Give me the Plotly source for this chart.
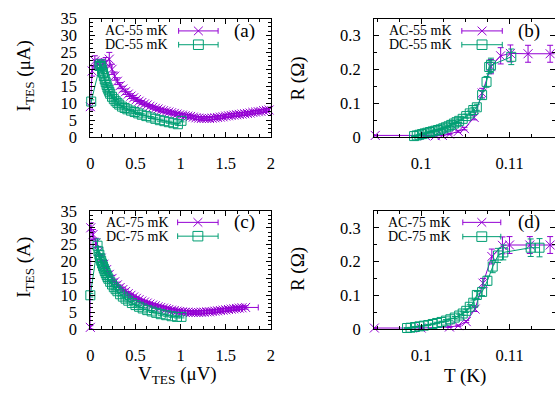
import plotly.graph_objects as go

# ---------------- data ----------------
# (a) I-V at 55 mK
a_ac_v = [0.00, 0.02, 0.05, 0.08, 0.11, 0.14, 0.17, 0.21, 0.24, 0.27,
          0.30, 0.33, 0.36, 0.39, 0.42, 0.45, 0.48, 0.51, 0.54, 0.57,
          0.60, 0.63, 0.66, 0.69, 0.72, 0.75, 0.78, 0.81, 0.84, 0.87,
          0.90, 0.93, 0.96, 0.99, 1.02, 1.05, 1.08, 1.11, 1.14, 1.17,
          1.20, 1.23, 1.26, 1.29, 1.32, 1.35, 1.38, 1.41, 1.44, 1.47,
          1.50, 1.53, 1.56, 1.59, 1.62, 1.65, 1.68, 1.71, 1.74, 1.77,
          1.80, 1.83, 1.86, 1.89, 1.92, 1.95, 1.98]
a_ac_i = [9.0, 19.5, 22.5, 21.5, 21.0, 21.5, 22.0, 23.0, 20.0, 18.0,
          16.5, 15.2, 14.2, 13.4, 12.7, 12.1, 11.6, 11.1, 10.6, 10.2,
          9.8, 9.5, 9.1, 8.8, 8.5, 8.3, 8.0, 7.8, 7.6, 7.4,
          7.2, 7.0, 6.8, 6.6, 6.5, 6.3, 6.2, 6.1, 5.9, 5.7,
          5.6, 5.5, 5.5, 5.5, 5.5, 5.6, 5.7, 5.8, 5.9, 6.0,
          6.2, 6.3, 6.4, 6.5, 6.6, 6.7, 6.8, 6.9, 7.0, 7.1,
          7.3, 7.4, 7.5, 7.6, 7.8, 7.9, 8.0]
a_ac_e = [1.0, 1.5, 1.5, 1.5, 1.5, 1.5, 1.5, 2.0, 1.5, 1.2,
          1.0, 0.9, 0.8, 0.8, 0.7, 0.7, 0.7, 0.6, 0.6, 0.6,
          0.6, 0.5, 0.5, 0.5, 0.5, 0.5, 0.5, 0.5, 0.5, 0.5,
          0.5, 0.5, 0.5, 0.5, 0.5, 0.5, 0.5, 0.5, 0.5, 0.5,
          0.5, 0.5, 0.5, 0.5, 0.5, 0.5, 0.5, 0.5, 0.5, 0.5,
          0.5, 0.5, 0.5, 0.5, 0.5, 0.5, 0.5, 0.5, 0.5, 0.5,
          0.5, 0.5, 0.5, 0.5, 0.5, 0.5, 0.5]
a_dc_v = [0.01, 0.10, 0.11, 0.12, 0.13, 0.14, 0.15, 0.16, 0.17, 0.18,
          0.19, 0.20, 0.21, 0.22, 0.24, 0.26, 0.28, 0.30, 0.32, 0.35,
          0.38, 0.41, 0.45, 0.49, 0.53, 0.57, 0.62, 0.67, 0.72, 0.77,
          0.82, 0.87, 0.92, 0.97, 1.01]
a_dc_i = [10.5, 21.0, 21.5, 21.0, 20.0, 19.0, 18.0, 17.0, 16.2, 15.4,
          14.6, 14.0, 13.4, 12.8, 11.9, 11.2, 10.6, 10.1, 9.6, 9.0,
          8.6, 8.2, 7.8, 7.4, 7.0, 6.6, 6.2, 5.8, 5.4, 5.0,
          4.7, 4.4, 4.1, 3.8, 4.8]
a_dc_e = [0.5, 1.0, 1.0, 1.0, 0.9, 0.9, 0.8, 0.8, 0.7, 0.7,
          0.7, 0.6, 0.6, 0.6, 0.5, 0.5, 0.5, 0.5, 0.4, 0.4,
          0.4, 0.4, 0.4, 0.4, 0.3, 0.3, 0.3, 0.3, 0.3, 0.3,
          0.3, 0.3, 0.3, 0.3, 0.3]

# (b) R-T at 55 mK
b_ac_t = [0.0948, 0.1005, 0.1016, 0.1024, 0.1032, 0.1042, 0.1049, 0.1060,
          0.1069, 0.1079, 0.1090, 0.1101, 0.1121, 0.1146, 0.1168]
b_ac_r = [0.005, 0.004, 0.004, 0.005, 0.009, 0.017, 0.025, 0.058,
          0.130, 0.208, 0.240, 0.247, 0.246, 0.246, 0.246]
b_ac_e = [0.001, 0.001, 0.001, 0.001, 0.002, 0.003, 0.004, 0.007,
          0.014, 0.021, 0.024, 0.025, 0.025, 0.025, 0.025]
b_dc_t = [0.0992, 0.0995, 0.0998, 0.1001, 0.1004, 0.1007, 0.1010, 0.1013,
          0.1016, 0.1019, 0.1022, 0.1025, 0.1028, 0.1031, 0.1034, 0.1037,
          0.1040, 0.1043, 0.1047, 0.1051, 0.1055, 0.1059, 0.1063, 0.1069,
          0.1074, 0.1077, 0.1079, 0.1102]
b_dc_r = [0.003, 0.005, 0.007, 0.009, 0.011, 0.013, 0.015, 0.017,
          0.019, 0.021, 0.023, 0.026, 0.029, 0.032, 0.036, 0.040,
          0.044, 0.048, 0.054, 0.062, 0.070, 0.080, 0.088, 0.124,
          0.163, 0.207, 0.212, 0.237]
b_dc_e = [0.001, 0.001, 0.001, 0.001, 0.001, 0.001, 0.002, 0.002,
          0.002, 0.002, 0.002, 0.003, 0.003, 0.003, 0.004, 0.004,
          0.004, 0.005, 0.005, 0.006, 0.007, 0.008, 0.009, 0.012,
          0.016, 0.020, 0.021, 0.023]

# (c) I-V at 75 mK
c_ac_v = [0.00, 0.005, 0.03, 0.06, 0.09, 0.12, 0.15, 0.18, 0.21, 0.24,
          0.27, 0.30, 0.33, 0.36, 0.39, 0.42, 0.45, 0.48, 0.51, 0.54,
          0.57, 0.60, 0.63, 0.66, 0.69, 0.72, 0.75, 0.78, 0.81, 0.84,
          0.87, 0.90, 0.93, 0.96, 0.99, 1.02, 1.05, 1.08, 1.11, 1.14,
          1.17, 1.20, 1.23, 1.26, 1.29, 1.32, 1.35, 1.38, 1.41, 1.44,
          1.47, 1.50, 1.53, 1.56, 1.59, 1.62, 1.65, 1.68, 1.72]
c_ac_i = [0.5, 30.0, 28.0, 25.5, 23.0, 21.0, 19.2, 17.6, 16.2, 15.0,
          14.0, 13.1, 12.3, 11.7, 11.1, 10.5, 10.0, 9.5, 9.1, 8.7,
          8.3, 8.0, 7.7, 7.4, 7.1, 6.9, 6.6, 6.4, 6.2, 6.0,
          5.8, 5.6, 5.5, 5.3, 5.2, 5.1, 5.0, 5.0, 4.9, 4.9,
          4.9, 4.9, 5.0, 5.0, 5.1, 5.1, 5.2, 5.3, 5.4, 5.5,
          5.6, 5.7, 5.8, 5.9, 6.0, 6.1, 6.2, 6.3, 6.4]
c_ac_e = [0.5, 1.5, 1.5, 1.4, 1.3, 1.2, 1.1, 1.0, 0.9, 0.9,
          0.8, 0.8, 0.7, 0.7, 0.7, 0.6, 0.6, 0.6, 0.5, 0.5,
          0.5, 0.5, 0.5, 0.5, 0.5, 0.5, 0.5, 0.5, 0.5, 0.5,
          0.5, 0.5, 0.5, 0.5, 0.5, 0.5, 0.5, 0.5, 0.5, 0.5,
          0.5, 0.5, 0.5, 0.5, 0.5, 0.5, 0.5, 0.5, 0.5, 0.5,
          0.5, 0.5, 0.5, 0.5, 0.5, 0.5, 0.5, 0.5, 0.5]
c_ac_ex = [0, 0, 0, 0, 0, 0, 0, 0, 0, 0,
           0, 0, 0, 0, 0, 0, 0, 0, 0, 0,
           0, 0, 0, 0, 0, 0, 0, 0, 0, 0,
           0, 0, 0, 0, 0, 0, 0, 0, 0, 0,
           0, 0, 0, 0, 0, 0, 0, 0, 0, 0,
           0, 0, 0, 0, 0, 0, 0, 0, 0.14]
c_dc_v = [0.00, 0.08, 0.09, 0.10, 0.11, 0.12, 0.13, 0.14, 0.15, 0.16,
          0.17, 0.18, 0.19, 0.20, 0.22, 0.24, 0.26, 0.28, 0.30, 0.33,
          0.36, 0.39, 0.42, 0.46, 0.50, 0.54, 0.58, 0.63, 0.68, 0.73,
          0.78, 0.84, 0.90, 0.96, 1.01]
c_dc_i = [10.0, 24.7, 23.0, 22.0, 21.0, 20.2, 19.4, 18.6, 17.9, 17.2,
          16.6, 16.0, 15.4, 14.9, 14.0, 13.2, 12.4, 11.8, 11.2, 10.3,
          9.6, 9.0, 8.4, 7.7, 7.1, 6.6, 6.1, 5.6, 5.2, 4.8,
          4.4, 4.1, 3.8, 3.6, 3.6]
c_dc_e = [0.5, 2.0, 1.5, 1.2, 1.1, 1.0, 1.0, 0.9, 0.9, 0.8,
          0.8, 0.8, 0.7, 0.7, 0.6, 0.6, 0.6, 0.5, 0.5, 0.5,
          0.4, 0.4, 0.4, 0.4, 0.3, 0.3, 0.3, 0.3, 0.3, 0.3,
          0.3, 0.3, 0.3, 0.3, 0.3]

# (d) R-T at 75 mK
d_ac_t = [0.0947, 0.1000, 0.1032, 0.1042, 0.1051, 0.1061, 0.1070, 0.1080,
          0.1092, 0.1100, 0.1123, 0.1146, 0.1168]
d_ac_r = [0.003, 0.003, 0.006, 0.010, 0.022, 0.059, 0.136, 0.215,
          0.248, 0.249, 0.249, 0.249, 0.249]
d_ac_e = [0.001, 0.001, 0.001, 0.002, 0.003, 0.007, 0.014, 0.022,
          0.025, 0.025, 0.025, 0.025, 0.025]
d_dc_t = [0.0984, 0.0988, 0.0993, 0.0998, 0.1003, 0.1008, 0.1013, 0.1018,
          0.1023, 0.1028, 0.1033, 0.1038, 0.1043, 0.1047, 0.1051, 0.1055,
          0.1059, 0.1063, 0.1069, 0.1075, 0.1081, 0.1087, 0.1093, 0.1124,
          0.1134]
d_dc_r = [0.003, 0.004, 0.006, 0.008, 0.010, 0.012, 0.015, 0.018,
          0.021, 0.025, 0.029, 0.034, 0.040, 0.046, 0.054, 0.066,
          0.078, 0.101, 0.110, 0.143, 0.185, 0.218, 0.227, 0.241,
          0.241]
d_dc_e = [0.001, 0.001, 0.001, 0.001, 0.001, 0.001, 0.002, 0.002,
          0.002, 0.003, 0.003, 0.003, 0.004, 0.005, 0.005, 0.006,
          0.008, 0.010, 0.011, 0.014, 0.018, 0.021, 0.022, 0.026,
          0.027]

# tick / text labels
panel_labels = ["(a)", "(b)", "(c)", "(d)"]
legend_labels = [["AC-55 mK", "DC-55 mK"], ["AC-55 mK", "DC-55 mK"],
                 ["AC-75 mK", "DC-75 mK"], ["AC-75 mK", "DC-75 mK"]]

# ---------------- styling ----------------
W, H = 600, 400
PURPLE = "#9400d3"
GREEN = "#009e73"
FONT = "Liberation Serif"


def px(xp):
    return xp / W


def py(yp):
    return 1 - yp / H


fig = go.Figure()


def add_series(x, y, ey, color, symbol, xa, ya, ex=None):
    tr = go.Scatter(
        x=x, y=y, mode="lines+markers", xaxis=xa, yaxis=ya,
        line=dict(color=color, width=1),
        marker=dict(symbol=symbol, size=9, color=color,
                    line=dict(color=color, width=1)),
        error_y=dict(type="data", array=ey, visible=True, color=color,
                     thickness=1, width=3),
        cliponaxis=False, showlegend=False, hoverinfo="skip")
    if ex is not None:
        tr.error_x = dict(type="data", array=ex, visible=True, color=color,
                          thickness=1, width=3)
    fig.add_trace(tr)


add_series(a_ac_v, a_ac_i, a_ac_e, PURPLE, "x-thin-open", "x", "y")
add_series(a_dc_v, a_dc_i, a_dc_e, GREEN, "square-open", "x", "y")
add_series(b_ac_t, b_ac_r, b_ac_e, PURPLE, "x-thin-open", "x2", "y2")
add_series(b_dc_t, b_dc_r, b_dc_e, GREEN, "square-open", "x2", "y2")
add_series(c_ac_v, c_ac_i, c_ac_e, PURPLE, "x-thin-open", "x3", "y3", ex=c_ac_ex)
add_series(c_dc_v, c_dc_i, c_dc_e, GREEN, "square-open", "x3", "y3")
add_series(d_ac_t, d_ac_r, d_ac_e, PURPLE, "x-thin-open", "x4", "y4")
add_series(d_dc_t, d_dc_r, d_dc_e, GREEN, "square-open", "x4", "y4")


def axis(domain, rng, dtick, tick0, mdtick, anchor, standoff):
    return dict(
        domain=domain, range=rng, dtick=dtick, tick0=tick0, anchor=anchor,
        showline=True, linecolor="black", linewidth=1, mirror="ticks",
        ticks="inside", ticklen=5, tickwidth=1, tickcolor="black",
        minor=dict(ticks="inside", ticklen=3, tickwidth=1, tickcolor="black",
                   dtick=mdtick, tick0=tick0),
        showgrid=False, zeroline=False, ticklabelstandoff=standoff,
        tickfont=dict(family=FONT, size=16.5, color="black"))


XL = [px(87.5), px(270.5)]
XR = [px(375), px(558)]
YT = [py(134.5), py(10)]
YB = [py(336), py(212)]
TR = [0.09466, 0.1151]

fig.update_layout(
    width=W, height=H, margin=dict(l=0, r=0, t=0, b=0),
    paper_bgcolor="white", plot_bgcolor="white",
    font=dict(family=FONT, color="black"),
    xaxis=axis(XL, [0, 2], 0.5, 0, 0.125, "y", 11),
    yaxis=axis(YT, [0, 35], 5, 0, 1.25, "x", 9),
    xaxis2=axis(XR, TR, 0.01, 0.1, 0.0025, "y2", 11),
    yaxis2=axis(YT, [0, 0.35], 0.1, 0, 0.05, "x2", 9),
    xaxis3=axis(XL, [0, 2], 0.5, 0, 0.125, "y3", 11),
    yaxis3=axis(YB, [0, 35], 5, 0, 1.25, "x3", 9),
    xaxis4=axis(XR, TR, 0.01, 0.1, 0.0025, "y4", 11),
    yaxis4=axis(YB, [0, 0.35], 0.1, 0, 0.05, "x4", 9),
)

annotations = []
shapes = []


def text(x, y, s, size, angle=0, xanchor="center"):
    annotations.append(dict(
        x=px(x), y=py(y), xref="paper", yref="paper", text=s,
        showarrow=False, textangle=angle, xanchor=xanchor, yanchor="middle",
        font=dict(family=FONT, size=size, color="black")))


def line(x0, y0, x1, y1, color):
    shapes.append(dict(type="line", xref="paper", yref="paper",
                       x0=px(x0), y0=py(y0), x1=px(x1), y1=py(y1),
                       line=dict(color=color, width=1)))


def key_entry(xr, y, label, color, symbol, x1, x2):
    text(xr, y, label, 14, xanchor="right")
    line(x1, y, x2, y, color)
    line(x1, y - 3, x1, y + 3, color)
    line(x2, y - 3, x2, y + 3, color)
    xc = (x1 + x2) / 2
    if symbol == "x":
        line(xc - 4.5, y - 4.5, xc + 4.5, y + 4.5, color)
        line(xc - 4.5, y + 4.5, xc + 4.5, y - 4.5, color)
    else:
        shapes.append(dict(type="rect", xref="paper", yref="paper",
                           x0=px(xc - 5), y0=py(y - 5), x1=px(xc + 5), y1=py(y + 5),
                           line=dict(color=color, width=1)))


# keys: (text right edge, y AC, y DC, sample x1, sample x2, label x, label y)
keys = [(168.5, 23, 37.5, 177, 217, 244, 23),
        (456.5, 23, 37.5, 464, 505, 532.5, 23),
        (169.5, 224, 238.5, 176, 217, 244, 224),
        (455.5, 224, 239, 465, 503.5, 532.5, 224)]
for k, (xr, ya, yd, x1, x2, lx, ly) in enumerate(keys):
    key_entry(xr, ya, legend_labels[k][0], PURPLE, "x", x1, x2)
    key_entry(xr, yd, legend_labels[k][1], GREEN, "sq", x1, x2)
    text(lx, ly, panel_labels[k], 19)

# axis titles
text(21, 70, "I<sub>TES</sub> (μA)", 19, angle=-90)
text(21, 271, "I<sub>TES</sub> (A)", 19, angle=-90)
text(298, 73, "R (Ω)", 19, angle=-90)
text(298, 273, "R (Ω)", 19, angle=-90)
text(176, 384, "V<sub>TES</sub> (μV)", 19)
text(467, 385, "T (K)", 19)

fig.update_layout(annotations=annotations, shapes=shapes)

fig.write_html("out.html",
               config={"displayModeBar": False},
               post_script="document.body.style.margin='0';"
                           "document.documentElement.style.overflow='hidden';"
                           "document.body.style.overflow='hidden';")
